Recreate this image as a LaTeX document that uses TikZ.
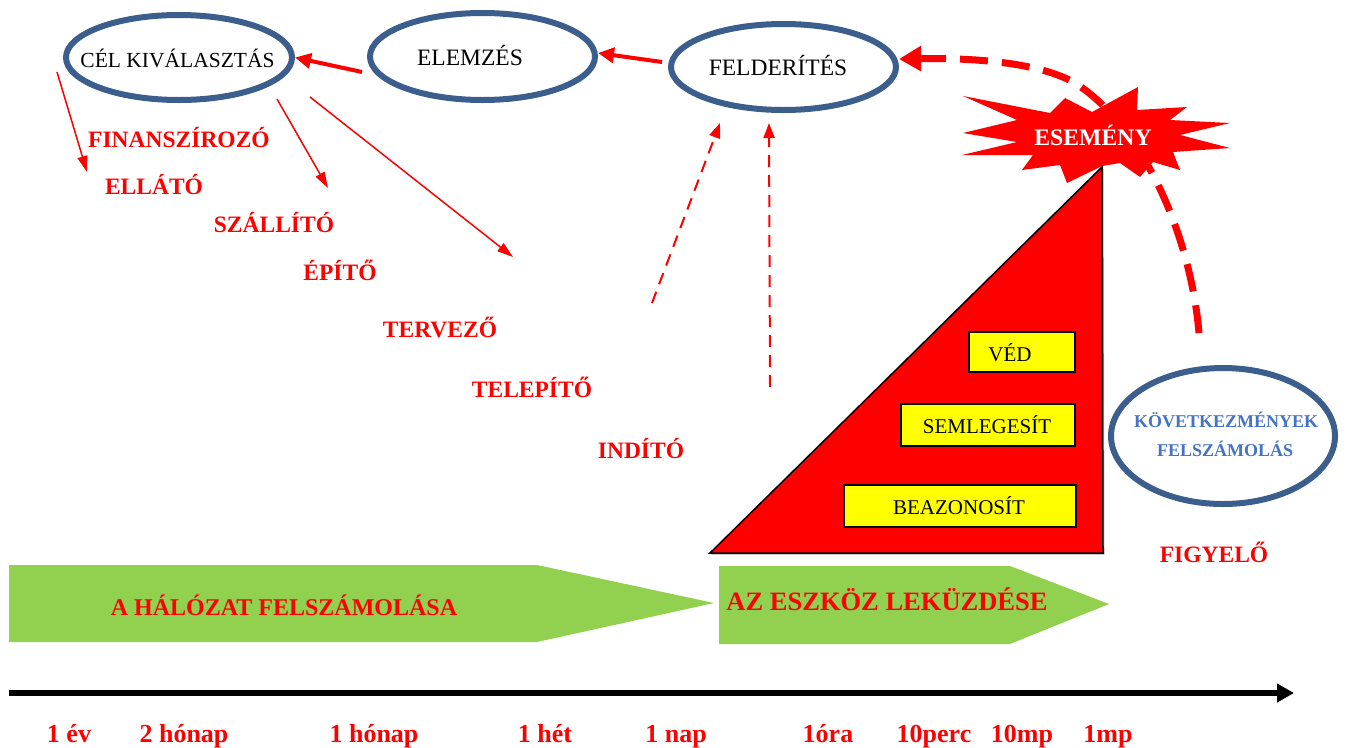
\documentclass[tikz,border=0pt]{standalone}
\usepackage{fontspec}
\setmainfont{Liberation Serif}
\usetikzlibrary{arrows.meta,shapes.geometric}
\definecolor{ellblue}{HTML}{3B5E8C}
\definecolor{grn}{HTML}{92D050}
\definecolor{txtblue}{HTML}{4472C4}
\definecolor{ylw}{HTML}{FFFF00}
\definecolor{rd}{HTML}{FF0000}
\begin{document}
\begin{tikzpicture}[x=1pt,y=-1pt,
  ell/.style={ellipse, draw=ellblue, line width=6pt, inner sep=0pt},
  etext/.style={anchor=base, inner sep=0pt, font=\fontsize{23.5}{28}\selectfont},
  rlbl/.style={anchor=base, inner sep=0pt, text=rd, font=\bfseries\fontsize{23.5}{28}\selectfont},
  tlbl/.style={anchor=base, inner sep=0pt, text=rd, font=\bfseries\fontsize{26}{30}\selectfont},
  btext/.style={anchor=base, inner sep=0pt, text=txtblue, font=\bfseries\fontsize{18}{22}\selectfont},
  ybox/.style={draw=black, line width=2pt, fill=ylw, inner sep=0pt},
  ytext/.style={anchor=base, inner sep=0pt, font=\fontsize{21}{25}\selectfont},
  thickarr/.style={draw=rd, line width=4pt, -{Triangle[length=16pt,width=15pt]}},
  thinarr/.style={draw=rd, line width=1.5pt, -{Triangle[length=16pt,width=10pt]}},
  dasharr/.style={draw=rd, line width=2pt, dash pattern=on 12pt off 8pt, -{Triangle[length=15pt,width=11pt]}},
  bigdash/.style={draw=rd, line width=7pt, dash pattern=on 28pt off 14pt, -{Triangle[length=22pt,width=24pt]}},
]
\useasboundingbox (0,0) rectangle (1348,747);

% ellipses
\node[ell, minimum width=226pt, minimum height=85pt] (cel) at (179,57.5) {};
\node[etext, font=\fontsize{21.5}{26}\selectfont] (celt) at (177.5,67) {CÉL KIVÁLASZTÁS};
\node[ell, minimum width=225pt, minimum height=87pt] (elem) at (482.5,56.5) {};
\node[etext] (elemt) at (470,65) {ELEMZÉS};
\node[ell, minimum width=225pt, minimum height=86pt] (feld) at (783.5,67) {};
\node[etext] (feldt) at (778,75) {FELDERÍTÉS};
\node[ell, minimum width=224pt, minimum height=136pt] (kov) at (1223,436) {};
\node[btext] (kovt1) at (1226,427) {KÖVETKEZMÉNYEK};
\node[btext] (kovt2) at (1225,456) {FELSZÁMOLÁS};

% big dashed curve (behind the starburst)
\coordinate (obs) at (1199,333);
\draw[bigdash] (obs) .. controls (1190,230) and (1140,124) .. (1075,83)
  .. controls (1035,60) and (960,58) .. ([yshift=8pt]feld.east);

% green arrows
\fill[grn] (9,565) -- (537,565) -- (714,603) -- (537,642) -- (9,642) -- cycle;
\fill[grn] (719,566) -- (1010,566) -- (1109,604) -- (1010,644) -- (719,644) -- cycle;
\node[rlbl, font=\bfseries\fontsize{24}{28}\selectfont] (halo) at (284,615) {A HÁLÓZAT FELSZÁMOLÁSA};
\node[rlbl, font=\bfseries\fontsize{26.5}{30}\selectfont] (eszk) at (887,610) {AZ ESZKÖZ LEKÜZDÉSE};

% timeline
\coordinate (tl0) at (9,693);
\coordinate (tl1) at (1294,693);
\draw[line width=6pt, -{Triangle[length=17pt,width=18pt]}] (tl0) -- (tl1);
\node[tlbl] (t1) at (69,742) {1 év};
\node[tlbl] (t2) at (184,742) {2 hónap};
\node[tlbl] (t3) at (374,742) {1 hónap};
\node[tlbl] (t4) at (545,742) {1 hét};
\node[tlbl] (t5) at (676,742) {1 nap};
\node[tlbl] (t6) at (828,742) {1óra};
\node[tlbl] (t7) at (934,742) {10perc};
\node[tlbl] (t8) at (1022,742) {10mp};
\node[tlbl] (t9) at (1108,742) {1mp};

% starburst
\fill[rd] (963,96) -- (1050,113) -- (1065,98) -- (1092,112) -- (1138,87) -- (1137,110)
  -- (1187,107) -- (1170,120) -- (1230,123) -- (1180,135) -- (1230,148) -- (1173,152)
  -- (1180,170) -- (1153,162) -- (1140,177) -- (1120,163) -- (1102,166) -- (1067,183)
  -- (1060,165) -- (1022,170) -- (1033,155) -- (962,155) -- (1017,142) -- (963,133)
  -- (1017,120) -- cycle;
\node[anchor=base, inner sep=0pt, text=white, font=\bfseries\fontsize{23.7}{28}\selectfont] (esem) at (1093,145) {ESEMÉNY};

% red triangle
\fill[gray!60] (711.5,554.5) -- (1104.5,554.5) -- (1103.5,168.5) -- cycle;
\draw[black, line width=1.5pt, fill=rd] (710,553) -- (1103,553) -- (1102,167) -- cycle;

% yellow boxes
\node[ybox, minimum width=106pt, minimum height=40pt] (ved) at (1022,352) {};
\node[ytext] (vedt) at (1010,361) {VÉD};
\node[ybox, minimum width=174pt, minimum height=42pt] (seml) at (988,425) {};
\node[ytext] (semlt) at (987,433) {SEMLEGESÍT};
\node[ybox, minimum width=232pt, minimum height=42pt] (beaz) at (960,506) {};
\node[ytext] (beazt) at (959,514) {BEAZONOSÍT};

% red labels
\node[rlbl] (fin) at (179,147) {FINANSZÍROZÓ};
\node[rlbl] (ella) at (154,194) {ELLÁTÓ};
\node[rlbl] (szal) at (274,232) {SZÁLLÍTÓ};
\node[rlbl] (epit) at (340,280) {ÉPÍTŐ};
\node[rlbl] (terv) at (440,337) {TERVEZŐ};
\node[rlbl] (tele) at (532,397) {TELEPÍTŐ};
\node[rlbl] (indi) at (641,458) {INDÍTÓ};
\node[rlbl] (figy) at (1214,562) {FIGYELŐ};

% connectors
\coordinate (e2c) at (362,72);
\draw[thickarr] (e2c) -- (cel.east);
\coordinate (f2e) at (662,62);
\draw[thickarr] (f2e) -- ([yshift=3.5pt]elem.east);

\coordinate (c1s) at (57,72);  \coordinate (c1e) at (87,172);
\coordinate (c2s) at (277,99); \coordinate (c2e) at (328,188);
\coordinate (c3s) at (310,97); \coordinate (c3e) at (513,257);
\draw[thinarr] (c1s) -- (c1e);
\draw[thinarr] (c2s) -- (c2e);
\draw[thinarr] (c3s) -- (c3e);

\coordinate (d1s) at (652,303);
\coordinate (d2s) at (770,387);
\draw[dasharr] (d1s) -- ([xshift=-63.5pt,yshift=-10pt]feld.south);
\draw[dasharr] (d2s) -- ([xshift=-14.5pt,yshift=-10pt]feld.south);
\end{tikzpicture}
\end{document}
